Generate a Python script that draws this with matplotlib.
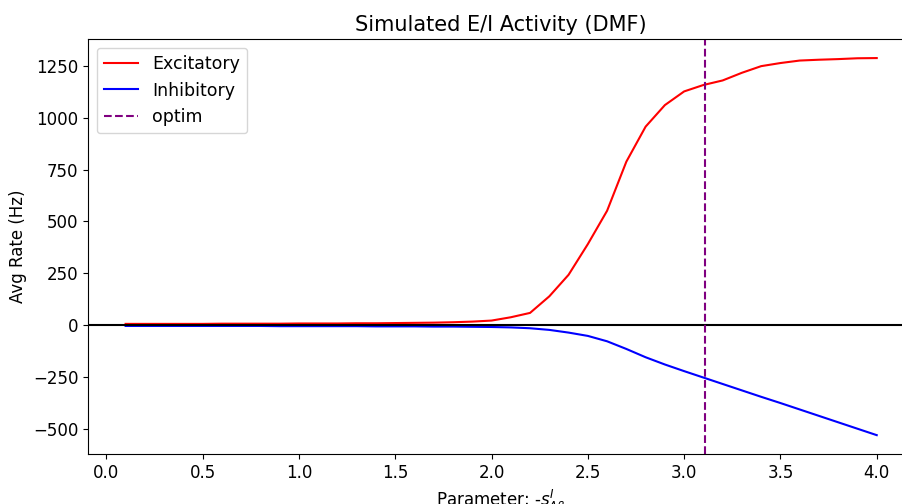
import numpy as np
import matplotlib
matplotlib.use('Agg')
import matplotlib.pyplot as plt

# Parameter sweep values
params = [0.1, 0.2, 0.3, 0.4, 0.5, 0.6, 0.7, 0.8, 0.9, 1.0,
          1.1, 1.2, 1.3, 1.4, 1.5, 1.6, 1.7, 1.8, 1.9, 2.0,
          2.1, 2.2, 2.3, 2.4, 2.5, 2.6, 2.7, 2.8, 2.9, 3.0,
          3.1, 3.2, 3.3, 3.4, 3.5, 3.6, 3.7, 3.8, 3.9, 4.0]

# Average excitatory rate (Hz)
exc_rate = [5, 5, 5, 5, 5, 6, 6, 6, 6, 7,
            7, 7, 8, 8, 9, 10, 11, 13, 16, 21,
            37, 58, 138, 242, 390, 551, 788, 957, 1061, 1127,
            1158, 1180, 1217, 1249, 1264, 1276, 1280, 1283, 1287, 1288]

# Average inhibitory rate (Hz), plotted as negative
inh_rate = [-5, -5, -5, -5, -5, -5, -5, -5, -6, -6,
            -6, -6, -6, -7, -7, -7, -8, -8, -9, -10,
            -12, -16, -24, -37, -53, -79, -116, -156, -191, -223,
            -254, -285, -316, -347, -377, -408, -439, -470, -501, -532]

optim = 3.11

fig = plt.figure(figsize=(9.03, 5.04), dpi=100)
# axes run slightly past the right edge, as in the cropped original
ax = fig.add_axes([0.0975, 0.0992, 0.915, 0.823])

ax.plot(params, exc_rate, color='red', label='Excitatory')
ax.plot(params, inh_rate, color='blue', label='Inhibitory')
ax.axhline(0, color='black', linewidth=1.5)
ax.axvline(optim, color='purple', linestyle='--', linewidth=1.5, label='optim')

ax.set_xlim(-0.095, 4.195)
ax.spines['right'].set_visible(False)
ax.set_title('Simulated E/I Activity (DMF)', fontsize=15)
ax.set_xlabel(r'Parameter: -$s^{I}_{A\beta}$', fontsize=12)
ax.set_ylabel('Avg Rate (Hz)', fontsize=12)
ax.tick_params(labelsize=12)
ax.legend(loc='upper left', fontsize=12.5)

plt.savefig('out.png', dpi=100)
